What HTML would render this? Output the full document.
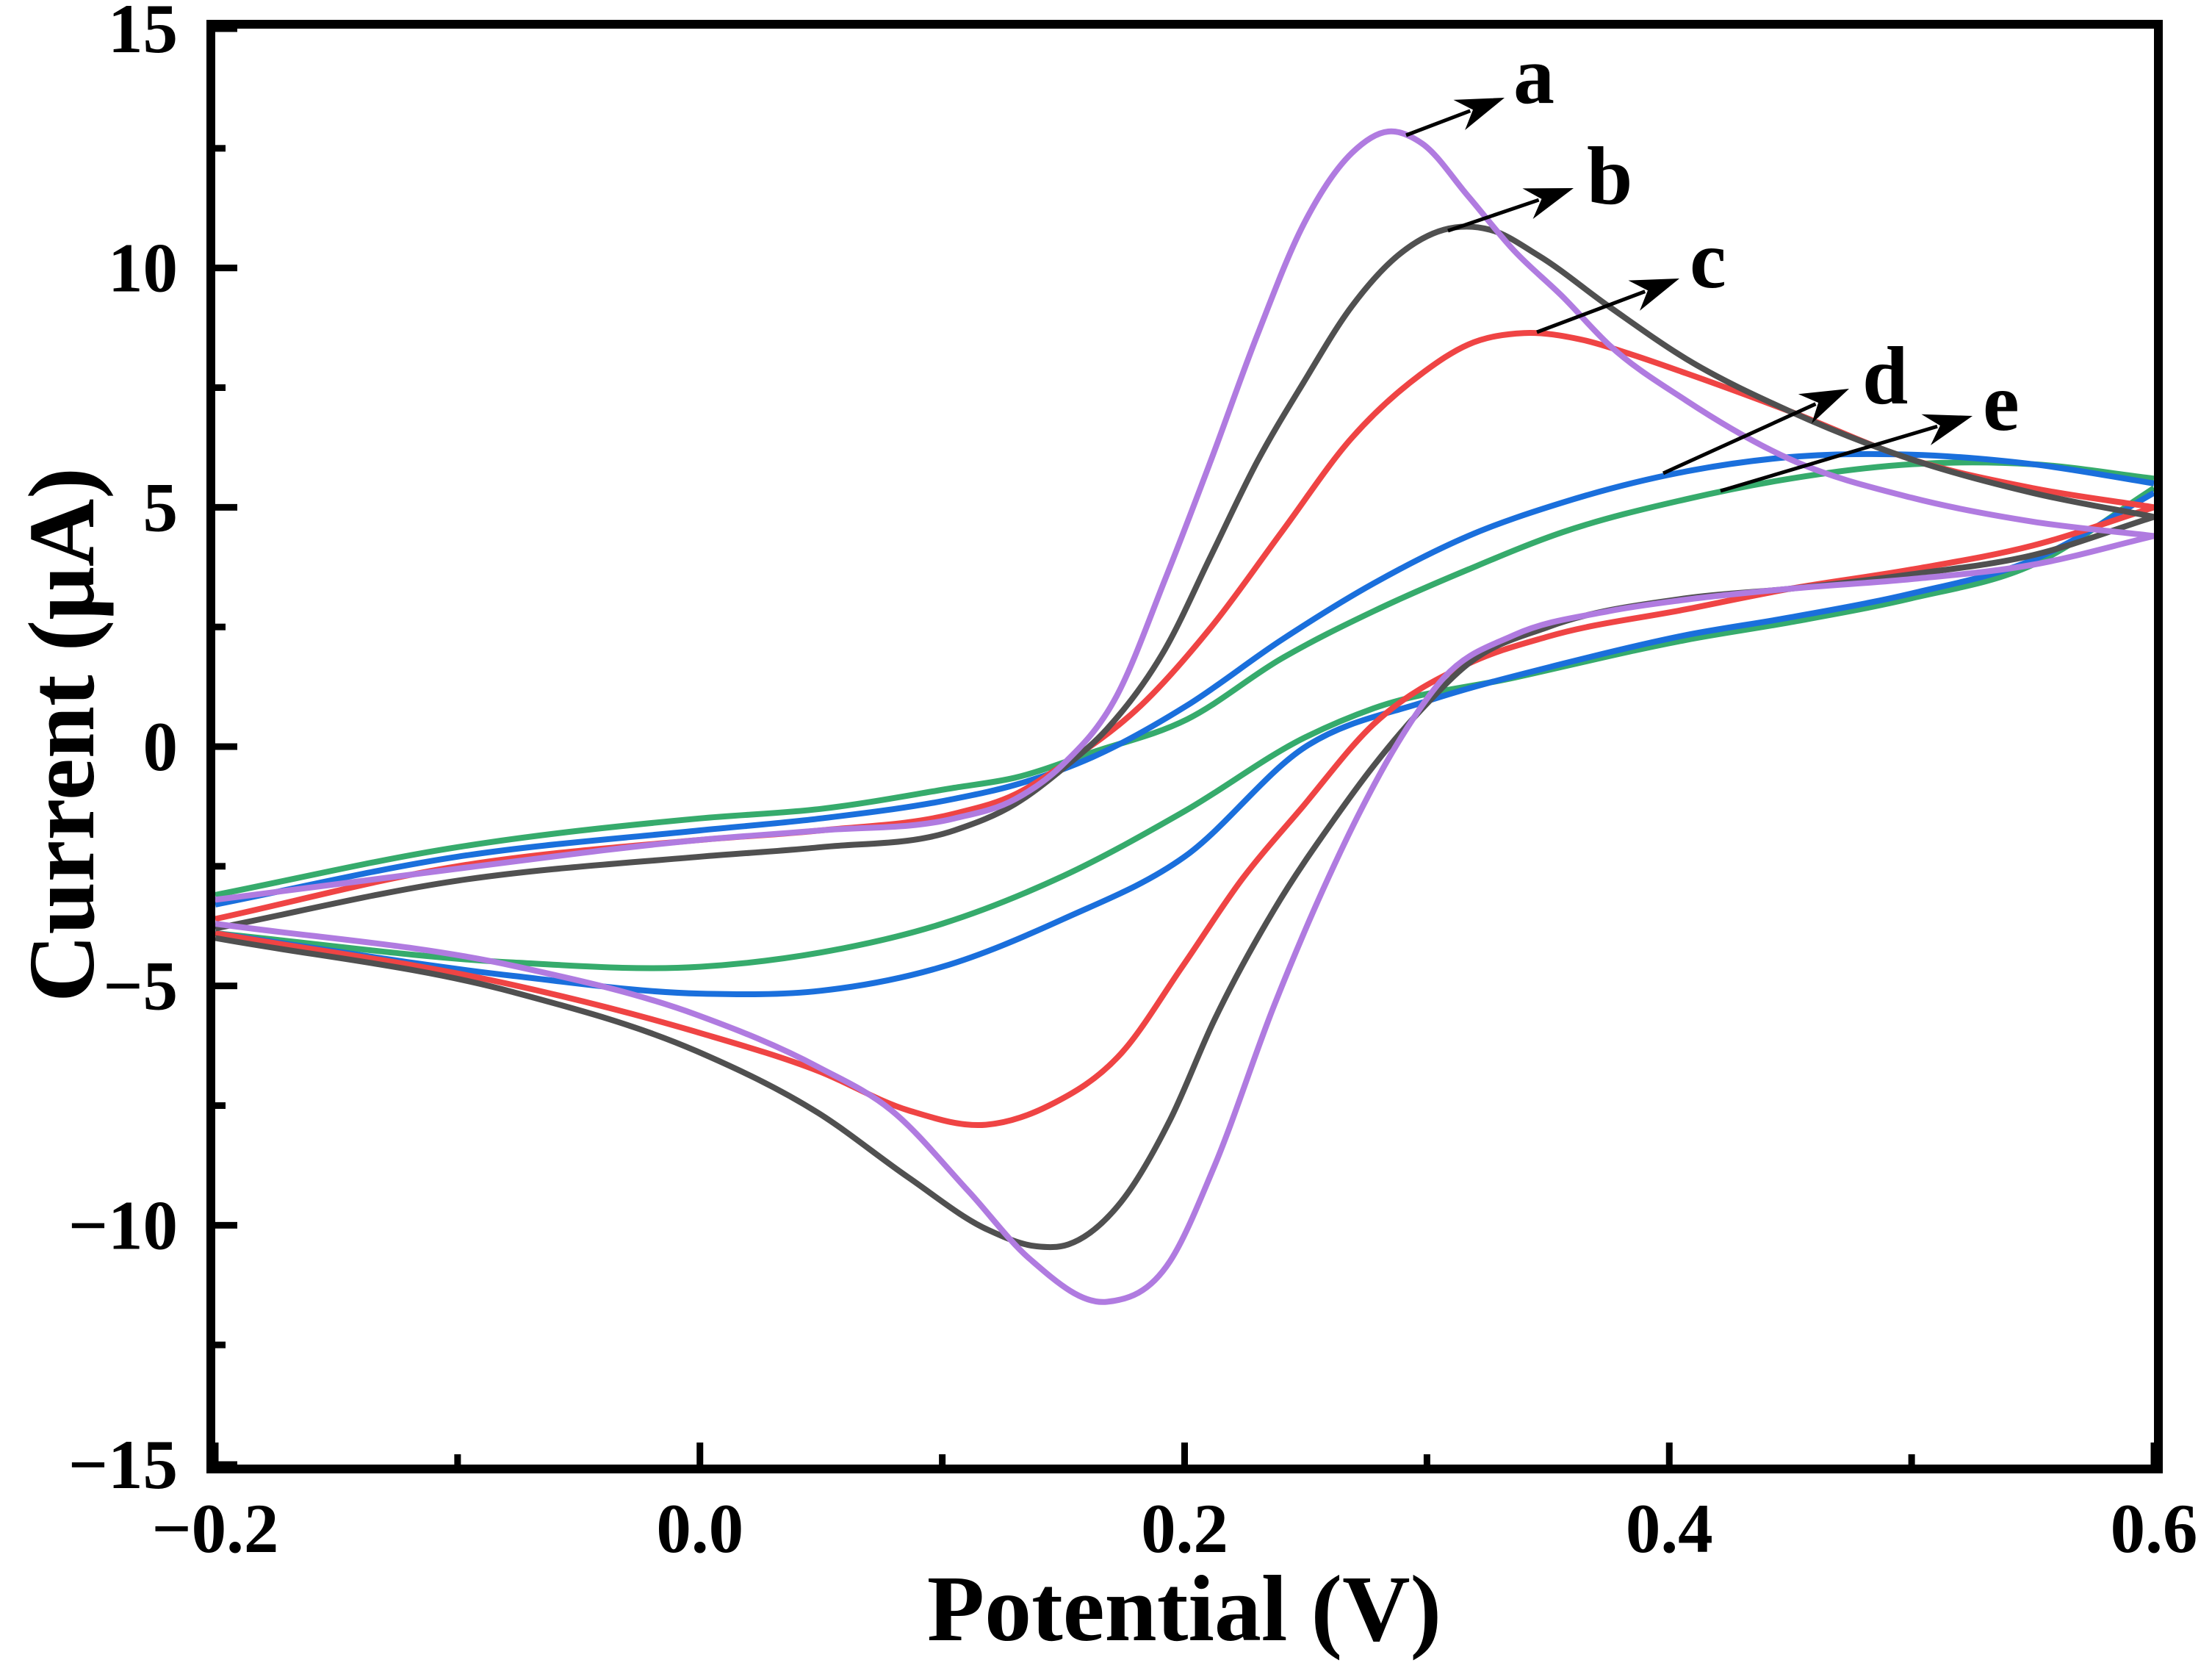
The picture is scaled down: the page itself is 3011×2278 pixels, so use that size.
<!DOCTYPE html>
<html><head><meta charset="utf-8"><style>
html,body{margin:0;padding:0;background:#fff}
svg{display:block}
text{font-family:"Liberation Serif",serif;font-weight:bold;fill:#000}
</style></head><body>
<svg id="chart" xmlns="http://www.w3.org/2000/svg" width="3011" height="2278" viewBox="0 0 3011 2278">
<g id="curves"></g>
<g id="axes"></g>
<g id="ann"></g>
<text x="1612" y="2232" font-size="128" text-anchor="middle">Potential (V)</text>
<text x="0" y="0" font-size="128" text-anchor="middle" transform="translate(127,1000) rotate(-90)">Current (μA)</text>
</svg>
<script>
// ---- data ----
const xTicks = [-0.2, 0.0, 0.2, 0.4, 0.6];
const xTickLabels = ["\u22120.2", "0.0", "0.2", "0.4", "0.6"];
const yTicks = [15, 10, 5, 0, -5, -10, -15];
const yTickLabels = ["15", "10", "5", "0", "\u22125", "\u221210", "\u221215"];
const seriesNames = ["a", "b", "c", "d", "e"];
const seriesColors = ["#b07be0", "#505050", "#ef4444", "#1a6fdc", "#36ab6c"];
const aFwdV = [-0.2,-0.1,0.0,0.05,0.105,0.13,0.149,0.172,0.192,0.211,0.23,0.249,0.269,0.284,0.298,0.317,0.336,0.356,0.375,0.407,0.45,0.5,0.55,0.6];
const aFwdI = [-3.2,-2.55,-1.95,-1.75,-1.5,-1.1,-0.41,1.06,3.5,6.0,8.6,10.9,12.4,12.85,12.6,11.5,10.36,9.4,8.4,7.23,6.0,5.2,4.7,4.4];
const aRevV = [0.6,0.55,0.5,0.45,0.407,0.375,0.336,0.307,0.288,0.273,0.257,0.237,0.212,0.194,0.168,0.136,0.111,0.079,0.049,-0.0015,-0.077,-0.2];
const aRevI = [4.4,3.8,3.5,3.3,3.07,2.83,2.33,1.44,0.08,-1.3,-3.0,-5.4,-8.8,-10.75,-11.6,-10.7,-9.3,-7.6,-6.7,-5.6,-4.58,-3.7];
const bFwdV = [-0.2,-0.1,0.0,0.05,0.105,0.13,0.15,0.168,0.192,0.211,0.23,0.249,0.269,0.288,0.307,0.326,0.346,0.375,0.407,0.45,0.5,0.55,0.6];
const bFwdI = [-3.8,-2.8,-2.3,-2.1,-1.75,-1.2,-0.45,0.37,2.04,4.0,5.96,7.6,9.2,10.26,10.8,10.8,10.26,9.2,8.1,7.0,6.0,5.3,4.8];
const bRevV = [0.6,0.55,0.5,0.45,0.407,0.35,0.317,0.3,0.278,0.262,0.237,0.212,0.194,0.174,0.152,0.139,0.119,0.086,0.049,-0.0015,-0.077,-0.2];
const bRevI = [4.8,4.0,3.6,3.3,3.1,2.5,1.73,0.9,-0.4,-1.5,-3.4,-5.74,-7.8,-9.5,-10.4,-10.44,-10.1,-9.0,-7.66,-6.36,-5.13,-4.0];
const cFwdV = [-0.2,-0.1,0.0,0.05,0.105,0.13,0.149,0.182,0.211,0.24,0.269,0.298,0.317,0.34,0.364,0.384,0.407,0.45,0.5,0.55,0.6];
const cFwdI = [-3.6,-2.5,-1.95,-1.75,-1.4,-1.0,-0.41,0.86,2.5,4.48,6.45,7.8,8.4,8.64,8.5,8.2,7.8,7.0,6.0,5.4,5.0];
const cRevV = [0.6,0.55,0.5,0.45,0.407,0.35,0.317,0.278,0.248,0.224,0.199,0.174,0.144,0.118,0.086,0.049,-0.0015,-0.077,-0.2];
const cRevI = [5.0,4.2,3.7,3.3,2.87,2.3,1.73,0.47,-1.3,-2.75,-4.6,-6.4,-7.5,-7.9,-7.6,-6.78,-5.96,-4.98,-3.9];
const dFwdV = [-0.2,-0.1,0.0,0.05,0.105,0.13,0.162,0.201,0.24,0.278,0.317,0.356,0.407,0.45,0.5,0.55,0.6];
const dFwdI = [-3.3,-2.3,-1.75,-1.5,-1.09,-0.8,-0.22,0.86,2.23,3.41,4.4,5.1,5.75,6.05,6.1,5.9,5.5];
const dRevV = [0.6,0.55,0.5,0.45,0.407,0.356,0.3,0.25,0.2,0.15,0.1,0.05,0.0,-0.077,-0.2];
const dRevI = [5.3,3.9,3.2,2.7,2.33,1.73,0.95,0.0,-2.3,-3.6,-4.6,-5.1,-5.16,-4.79,-3.9];
const eFwdV = [-0.2,-0.1,0.0,0.05,0.105,0.13,0.162,0.201,0.24,0.278,0.317,0.356,0.407,0.45,0.5,0.55,0.6];
const eFwdI = [-3.1,-2.1,-1.5,-1.3,-0.86,-0.65,-0.12,0.57,1.84,2.83,3.7,4.48,5.17,5.6,5.9,5.9,5.6];
const eRevV = [0.6,0.55,0.5,0.45,0.407,0.336,0.278,0.25,0.2,0.15,0.1,0.05,0.0,-0.077,-0.2];
const eRevI = [5.4,3.8,3.1,2.6,2.23,1.44,0.8,0.2,-1.35,-2.7,-3.7,-4.3,-4.6,-4.51,-3.9];

// ---- layout ----
const L = 293, R = 2932, T = 39, B = 1993;
const X0 = -0.2, X1 = 0.6, Y0 = -15, Y1 = 15;
function sx(v){ return L + (v - X0) / (X1 - X0) * (R - L); }
function sy(v){ return B - (v - Y0) / (Y1 - Y0) * (B - T); }
const NS = "http://www.w3.org/2000/svg";
function mk(tag, parent){ const e = document.createElementNS(NS, tag); parent.appendChild(e); return e; }

function smoothPath(V, I){
  const n = V.length;
  const m = new Array(n);
  for (let i=0;i<n;i++){
    if (i===0) m[i] = (I[1]-I[0])/(V[1]-V[0]);
    else if (i===n-1) m[i] = (I[n-1]-I[n-2])/(V[n-1]-V[n-2]);
    else {
      const h0 = V[i]-V[i-1], h1 = V[i+1]-V[i];
      const d0 = (I[i]-I[i-1])/h0, d1 = (I[i+1]-I[i])/h1;
      m[i] = (d0*h1 + d1*h0)/(h0+h1);
    }
  }
  let d = "M" + sx(V[0]).toFixed(1) + "," + sy(I[0]).toFixed(1);
  for (let i=0;i<n-1;i++){
    const h = V[i+1]-V[i];
    const c1x = V[i]+h/3, c1y = I[i]+m[i]*h/3;
    const c2x = V[i+1]-h/3, c2y = I[i+1]-m[i+1]*h/3;
    d += " C"+sx(c1x).toFixed(1)+","+sy(c1y).toFixed(1)+" "+sx(c2x).toFixed(1)+","+sy(c2y).toFixed(1)+" "+sx(V[i+1]).toFixed(1)+","+sy(I[i+1]).toFixed(1);
  }
  return d;
}
const allSeries = [[aFwdV,aFwdI,aRevV,aRevI],[bFwdV,bFwdI,bRevV,bRevI],[cFwdV,cFwdI,cRevV,cRevI],[dFwdV,dFwdI,dRevV,dRevI],[eFwdV,eFwdI,eRevV,eRevI]];
const cg = document.getElementById("curves");
const order = [4,3,2,1,0];
order.forEach(k=>{
  const s = allSeries[k];
  const pf = mk("path", cg);
  
  
  pf.setAttribute("d", smoothPath(s[0], s[1]));
  pf.setAttribute("fill","none"); pf.setAttribute("stroke", seriesColors[k]); pf.setAttribute("stroke-width","8");
  const pr = mk("path", cg);
  
  
  pr.setAttribute("d", smoothPath(s[2], s[3]));
  pr.setAttribute("fill","none"); pr.setAttribute("stroke", seriesColors[k]); pr.setAttribute("stroke-width","8");
});

// ---- axes ----
const ag = document.getElementById("axes");
const frame = mk("rect", ag);


frame.setAttribute("x", L-6); frame.setAttribute("y", T-6);
frame.setAttribute("width", R-L+12); frame.setAttribute("height", B-T+12);
frame.setAttribute("fill","none"); frame.setAttribute("stroke","#000"); frame.setAttribute("stroke-width","12");
xTicks.forEach((v,i)=>{
  const t = mk("line", ag);
  
  
  t.setAttribute("x1", sx(v)); t.setAttribute("x2", sx(v)); t.setAttribute("y1", B); t.setAttribute("y2", B-30);
  t.setAttribute("stroke","#000"); t.setAttribute("stroke-width","9");
  if (i < xTicks.length-1){
    const m = mk("line", ag);
    
    
    const mv = (v + xTicks[i+1]) / 2;
    m.setAttribute("x1", sx(mv)); m.setAttribute("x2", sx(mv)); m.setAttribute("y1", B); m.setAttribute("y2", B-14);
    m.setAttribute("stroke","#000"); m.setAttribute("stroke-width","9");
  }
  const lb = mk("text", ag);
  
  
  lb.setAttribute("x", sx(v)); lb.setAttribute("y", 2112); lb.setAttribute("font-size","95"); lb.setAttribute("text-anchor","middle");
  lb.textContent = xTickLabels[i];
});
yTicks.forEach((v,i)=>{
  const t = mk("line", ag);
  
  
  t.setAttribute("x1", L); t.setAttribute("x2", L+30); t.setAttribute("y1", sy(v)); t.setAttribute("y2", sy(v));
  t.setAttribute("stroke","#000"); t.setAttribute("stroke-width","9");
  if (i < yTicks.length-1){
    const m = mk("line", ag);
    
    
    const mv = (v + yTicks[i+1]) / 2;
    m.setAttribute("x1", L); m.setAttribute("x2", L+14); m.setAttribute("y1", sy(mv)); m.setAttribute("y2", sy(mv));
    m.setAttribute("stroke","#000"); m.setAttribute("stroke-width","9");
  }
  const lb = mk("text", ag);
  
  
  lb.setAttribute("x", 242); lb.setAttribute("y", sy(v)+32); lb.setAttribute("font-size","95"); lb.setAttribute("text-anchor","end");
  lb.textContent = yTickLabels[i];
});

// ---- annotations (arrows + labels) ----
const annStart = [[1914,184],[1971,314],[2092,452],[2264,644],[2342,668]];
const annTip = [[2048,133],[2142,256],[2286,379],[2517,529],[2685,566]];
const annLabelPos = [[2060,140],[2160,277],[2300,391],[2535,549],[2699,585]];
const ng = document.getElementById("ann");
seriesNames.forEach((n,k)=>{
  const [x1,y1] = annStart[k], [x2,y2] = annTip[k];
  const dx = x2-x1, dy = y2-y1, len = Math.hypot(dx,dy), ux = dx/len, uy = dy/len;
  const hl = 60, hw = 22;
  const bx = x2 - ux*hl, by = y2 - uy*hl;
  const ln = mk("line", ng);
  
  
  ln.setAttribute("x1", x1); ln.setAttribute("y1", y1); ln.setAttribute("x2", bx+ux*10); ln.setAttribute("y2", by+uy*10);
  ln.setAttribute("stroke","#000"); ln.setAttribute("stroke-width","5");
  const hd = mk("polygon", ng);
  
  
  hd.setAttribute("points", x2+","+y2+" "+(bx - uy*hw - ux*6)+","+(by + ux*hw - uy*6)+" "+(bx+ux*14)+","+(by+uy*14)+" "+(bx + uy*hw - ux*6)+","+(by - ux*hw - uy*6));
  hd.setAttribute("fill","#000");
  const tx = mk("text", ng);
  
  
  tx.setAttribute("x", annLabelPos[k][0]); tx.setAttribute("y", annLabelPos[k][1]); tx.setAttribute("font-size","112");
  tx.textContent = n;
});
</script>
</body></html>
